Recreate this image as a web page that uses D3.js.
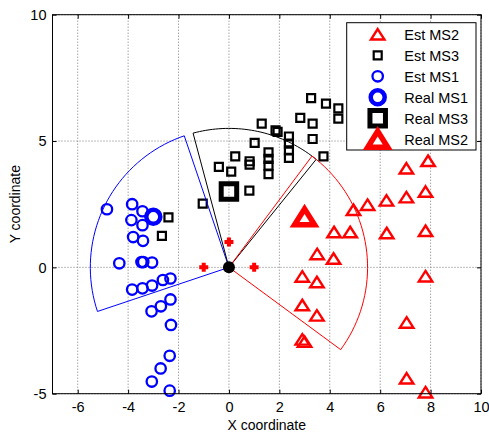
<!DOCTYPE html>
<html>
<head>
<meta charset="utf-8">
<script src="https://cdn.jsdelivr.net/npm/d3@7"></script>
<style>
  body { margin: 0; background: #fff; }
  text { font-family: Arial, "Liberation Sans", sans-serif; }
</style>
</head>
<body>
<div id="chart"></div>
<script>
// estimated positions
var estMS2 = [
  [7.9, 4.22], [7.04, 3.92], [7.8, 3.0], [7.04, 2.78], [6.25, 2.65], [5.5, 2.48],
  [4.94, 2.28], [4.81, 1.4], [4.17, 1.4], [6.26, 1.36], [7.8, 1.45], [3.5, 0.53],
  [4.15, 0.35], [2.91, -0.36], [3.49, -0.58], [2.91, -1.49], [3.49, -1.9],
  [2.91, -2.85], [3.0, -2.94], [7.8, -0.35], [7.05, -2.18], [7.05, -4.39], [7.8, -4.94]
];
var estMS3 = [
  [3.26, 6.7], [3.85, 6.48], [4.34, 6.29], [4.34, 5.89], [2.83, 5.92], [3.32, 5.69],
  [1.3, 5.69], [1.85, 5.42], [1.93, 5.36], [2.38, 5.18], [2.38, 4.9], [2.38, 4.63],
  [2.38, 4.33], [3.32, 5.08], [3.75, 4.39], [1.02, 4.93], [1.57, 4.55], [1.57, 4.29],
  [1.57, 4.03], [1.57, 3.69], [0.82, 4.2], [0.82, 4.07], [0.25, 4.39], [-0.4, 3.98],
  [0.09, 3.79], [0.81, 3.04], [-1.04, 2.52], [-2.4, 1.98], [-2.66, 1.25]
];
var estMS1 = [
  [-4.84, 2.3], [-3.84, 2.5], [-3.43, 2.22], [-3.87, 1.87], [-3.43, 1.67], [-3.8, 1.2],
  [-3.41, 1.05], [-4.35, 0.16], [-3.47, 0.21], [-3.4, 0.21], [-3.05, 0.19],
  [-3.84, -0.88], [-3.43, -0.83], [-3.05, -0.72], [-2.62, -0.5], [-2.32, -0.44],
  [-2.32, -1.27], [-2.7, -1.54], [-3.07, -1.74], [-2.3, -2.28], [-2.35, -3.5],
  [-2.71, -4.0], [-3.06, -4.52], [-2.35, -4.88]
];
var realMS1 = [-3, 2];
var realMS3 = [0, 3];
var realMS2 = [3, 2];
var anchors = [[0, 1], [-1, 0], [1, 0]];   // red crosses
var origin = [0, 0];

// sectors around the origin: [start angle, end angle] in degrees, radius
var sectorNames = ["MS1", "MS3", "MS2"];
var sectorColors = ["#0000ff", "#000000", "#ff0000"];
var sectorAngles = [[108.8, 198.5], [51, 105], [-36.3, 53.2]];
var sectorRadius = 5.5;

var xTicks = [-6, -4, -2, 0, 2, 4, 6, 8, 10];
var yTicks = [-5, 0, 5, 10];
var legendLabels = ["Est MS2", "Est MS3", "Est MS1", "Real MS1", "Real MS3", "Real MS2"];

var W = 489, H = 434;
var pL = 52.5, pR = 481, pT = 14.7, pB = 393.7;

var x = d3.scaleLinear().domain([-7, 10]).range([pL, pR]);
var y = d3.scaleLinear().domain([-5, 10]).range([pB, pT]);

var svg = d3.select("#chart").append("svg")
  .attr("width", W).attr("height", H);

// grid
var grid = svg.append("g").attr("stroke", "#7a7a7a").attr("stroke-width", 1)
  .attr("stroke-dasharray", "1,2");
grid.selectAll("line.vx").data(xTicks).enter().append("line")
  .attr("x1", d => x(d)).attr("x2", d => x(d)).attr("y1", pT).attr("y2", pB);
grid.selectAll("line.hy").data(yTicks).enter().append("line")
  .attr("y1", d => y(d)).attr("y2", d => y(d)).attr("x1", pL).attr("x2", pR);

// markers
function triPath(w, h) {
  return "M0," + (-h / 2) + "L" + (w / 2) + "," + (h / 2) + "L" + (-w / 2) + "," + (h / 2) + "Z";
}
function sqPath(s) {
  return "M" + (-s / 2) + "," + (-s / 2) + "h" + s + "v" + s + "h" + (-s) + "Z";
}

var marks = svg.append("g");

marks.selectAll("path.ms2").data(estMS2).enter().append("path")
  .attr("d", triPath(13.5, 10.5))
  .attr("transform", d => "translate(" + x(d[0]) + "," + y(d[1]) + ")")
  .attr("fill", "none").attr("stroke", "#ff0000").attr("stroke-width", 2.4);

marks.selectAll("path.ms3").data(estMS3).enter().append("path")
  .attr("d", sqPath(8))
  .attr("transform", d => "translate(" + x(d[0]) + "," + y(d[1]) + ")")
  .attr("fill", "none").attr("stroke", "#000").attr("stroke-width", 2.2);

marks.selectAll("circle.ms1").data(estMS1).enter().append("circle")
  .attr("cx", d => x(d[0])).attr("cy", d => y(d[1])).attr("r", 5.2)
  .attr("fill", "none").attr("stroke", "#0000ff").attr("stroke-width", 2.3);

marks.append("circle")
  .attr("cx", x(realMS1[0])).attr("cy", y(realMS1[1])).attr("r", 7)
  .attr("fill", "none").attr("stroke", "#0000ff").attr("stroke-width", 4.5);

marks.append("path")
  .attr("d", sqPath(15.5))
  .attr("transform", "translate(" + x(realMS3[0]) + "," + y(realMS3[1]) + ")")
  .attr("fill", "none").attr("stroke", "#000").attr("stroke-width", 5);

marks.append("path")
  .attr("d", triPath(20, 16))
  .attr("transform", "translate(" + x(realMS2[0]) + "," + y(realMS2[1]) + ")")
  .attr("fill", "none").attr("stroke", "#ff0000").attr("stroke-width", 5.5)
  .attr("stroke-linejoin", "miter");

// sectors
var toRad = Math.PI / 180;
sectorAngles.forEach(function(a, i) {
  var pts = [[0, 0]];
  for (var t = a[0]; t <= a[1] + 1e-6; t += (a[1] - a[0]) / 40) {
    pts.push([sectorRadius * Math.cos(t * toRad), sectorRadius * Math.sin(t * toRad)]);
  }
  pts.push([0, 0]);
  svg.append("path")
    .attr("d", d3.line().x(d => x(d[0])).y(d => y(d[1]))(pts))
    .attr("fill", "none").attr("stroke", sectorColors[i]).attr("stroke-width", 1);
});

// red crosses and origin
svg.selectAll("path.anchor").data(anchors).enter().append("path")
  .attr("d", "M-4.5,0H4.5M0,-4.5V4.5")
  .attr("transform", d => "translate(" + x(d[0]) + "," + y(d[1]) + ")")
  .attr("stroke", "#ff0000").attr("stroke-width", 4);
svg.append("circle")
  .attr("cx", x(origin[0])).attr("cy", y(origin[1])).attr("r", 6).attr("fill", "#000");

// axes (box with inward ticks)
var fmt = d => String(d);
var gB = svg.append("g").attr("transform", "translate(0," + pB + ")")
  .call(d3.axisBottom(x).tickValues(xTicks).tickSize(-4).tickPadding(8).tickFormat(fmt));
var gL = svg.append("g").attr("transform", "translate(" + pL + ",0)")
  .call(d3.axisLeft(y).tickValues(yTicks).tickSize(-4).tickPadding(6).tickFormat(fmt));
var gT = svg.append("g").attr("transform", "translate(0," + pT + ")")
  .call(d3.axisTop(x).tickValues(xTicks).tickSize(-4).tickFormat(""));
var gR = svg.append("g").attr("transform", "translate(" + pR + ",0)")
  .call(d3.axisRight(y).tickValues(yTicks).tickSize(-4).tickFormat(""));
[gB, gL, gT, gR].forEach(function(g) {
  g.select(".domain").remove();
  g.selectAll("line").attr("stroke", "#000");
  g.selectAll("text").attr("font-size", 14.5).attr("fill", "#000")
    .style("font-family", "Arial, 'Liberation Sans', sans-serif");
});
svg.append("rect").attr("x", pL).attr("y", pT)
  .attr("width", pR - pL).attr("height", pB - pT)
  .attr("fill", "none").attr("stroke", "#000").attr("stroke-width", 1);

svg.append("text").attr("x", (pL + pR) / 2).attr("y", 430)
  .attr("text-anchor", "middle").attr("font-size", 14).text("X coordinate");
svg.append("text").attr("transform", "translate(20," + (pT + pB) / 2 + ") rotate(-90)")
  .attr("text-anchor", "middle").attr("font-size", 14).text("Y coordinate");

// legend
var lg = svg.append("g");
lg.append("rect").attr("x", 346.7).attr("y", 22.7).attr("width", 129.3).attr("height", 127.3)
  .attr("fill", "#fff").attr("stroke", "#000").attr("stroke-width", 1);
var rowY = d3.scalePoint().domain(legendLabels).range([34.3, 139.3]);
var mx = 377.7;
legendLabels.forEach(function(lab) {
  var ry = rowY(lab);
  var g = lg.append("g").attr("transform", "translate(" + mx + "," + ry + ")");
  if (lab === "Est MS2") g.append("path").attr("d", triPath(13.5, 10.5)).attr("fill", "none").attr("stroke", "#ff0000").attr("stroke-width", 2.4);
  if (lab === "Est MS3") g.append("path").attr("d", sqPath(8)).attr("fill", "none").attr("stroke", "#000").attr("stroke-width", 2.2);
  if (lab === "Est MS1") g.append("circle").attr("r", 5.2).attr("fill", "none").attr("stroke", "#0000ff").attr("stroke-width", 2.3);
  if (lab === "Real MS1") g.append("circle").attr("r", 7).attr("fill", "none").attr("stroke", "#0000ff").attr("stroke-width", 4.5);
  if (lab === "Real MS3") g.append("path").attr("d", sqPath(15.5)).attr("fill", "none").attr("stroke", "#000").attr("stroke-width", 5);
  if (lab === "Real MS2") g.append("path").attr("d", triPath(20, 16)).attr("fill", "none").attr("stroke", "#ff0000").attr("stroke-width", 5.5);
  lg.append("text").attr("x", 404.3).attr("y", ry).attr("dy", "0.36em")
    .attr("font-size", 14.5).text(lab);
});
</script>
</body>
</html>
